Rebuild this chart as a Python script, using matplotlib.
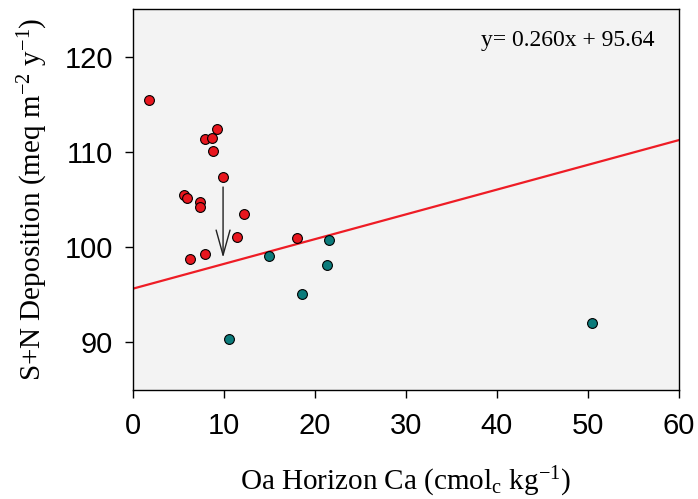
import matplotlib
matplotlib.use("Agg")
import matplotlib.pyplot as plt
import numpy as np

plt.rcParams['mathtext.fontset'] = 'custom'
plt.rcParams['mathtext.rm'] = 'Liberation Serif'
plt.rcParams['mathtext.it'] = 'Liberation Serif:italic'
plt.rcParams['mathtext.default'] = 'rm'

# Red points
red_x = [1.76, 9.2, 7.95, 8.68, 8.75, 9.93, 5.6, 5.93, 7.36, 7.36, 12.16, 11.4, 6.26, 7.9, 18.06]
red_y = [115.4, 112.45, 111.4, 111.5, 110.1, 107.4, 105.5, 105.2, 104.7, 104.2, 103.5, 101.1, 98.8, 99.3, 100.95]
# Teal points
teal_x = [14.9, 21.5, 21.35, 18.6, 10.5, 50.4]
teal_y = [99.05, 100.7, 98.1, 95.1, 90.4, 92.0]

slope = 0.260
intercept = 95.64
xlim = (0, 60)
ylim = (85, 125)
xticks = [0, 10, 20, 30, 40, 50, 60]
yticks = [90, 100, 110, 120]

arrow_x = 9.9
arrow_y_start = 106.6
arrow_y_end = 98.6

fig = plt.figure(figsize=(6.98, 4.99), dpi=100)
ax = fig.add_axes([0.1905, 0.2184, 0.7823, 0.7636])
ax.set_facecolor('#f3f3f3')

lx = np.array(xlim)
ax.plot(lx, slope * lx + intercept, color='#ee1c25', lw=1.6, zorder=2)

ax.scatter(red_x, red_y, s=50, c='#e8161e', edgecolors='black', linewidths=0.8, zorder=3)
ax.scatter(teal_x, teal_y, s=50, c='#0b7b7b', edgecolors='black', linewidths=0.8, zorder=3)

ax.annotate('', xy=(arrow_x, arrow_y_end), xytext=(arrow_x, arrow_y_start),
            arrowprops=dict(arrowstyle='->,head_length=1.8,head_width=0.5', color='#222222', lw=1.0),
            zorder=4)

ax.text(0.955, 0.918, 'y= 0.260x + 95.64', transform=ax.transAxes, ha='right', va='center',
        fontsize=17, family='Liberation Serif')

ax.set_xlim(*xlim)
ax.set_ylim(*ylim)
ax.set_xticks(xticks)
ax.set_yticks(yticks)
ax.tick_params(direction='out', length=5.5, width=1, labelsize=21)
ax.tick_params(axis='x', pad=10.5)
ax.tick_params(axis='y', pad=9)
for lab in ax.get_xticklabels() + ax.get_yticklabels():
    lab.set_family('Liberation Sans')
for s in ax.spines.values():
    s.set_linewidth(1.0)

ax.set_xlabel('Oa Horizon Ca (cmol$_{c}$ kg$^{-1}$)', fontsize=21, family='Liberation Serif', labelpad=18)
ax.set_ylabel('S+N Deposition (meq m$^{-2}$ y$^{-1}$)', fontsize=21, family='Liberation Serif', labelpad=10)

fig.savefig('out.png', dpi=100)
